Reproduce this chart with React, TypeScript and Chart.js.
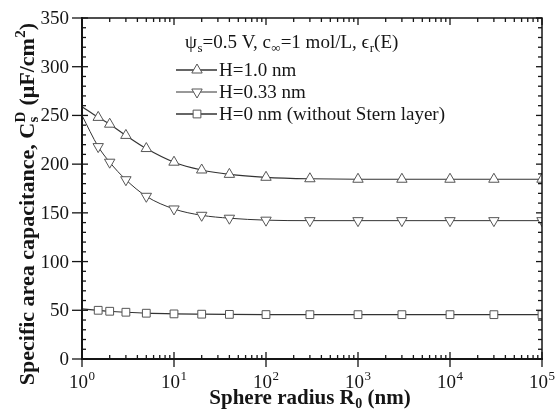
import React, { useEffect, useRef } from 'react';
import { Chart, registerables } from 'chart.js';

Chart.register(...registerables);

// ---- data ----
const radii = [1, 1.5, 2, 3, 5, 10, 20, 40, 100, 300, 1000, 3000, 10000, 30000, 100000];
const capH10 = [259, 248, 241, 229.5, 216, 202, 194, 189.5, 186.5, 185, 184.5, 184.5, 184.5, 184.5, 184.5];
const capH033 = [250, 218, 202, 184, 167, 154, 147.5, 144.5, 142.5, 142, 142, 142, 142, 142, 142];
const capH0 = [51.5, 50, 49, 48, 47, 46.3, 46, 45.8, 45.6, 45.5, 45.5, 45.5, 45.5, 45.5, 45.5];
const seriesLabels = ['H=1.0 nm', 'H=0.33 nm', 'H=0 nm (without Stern layer)'];
const yTicks = [0, 50, 100, 150, 200, 250, 300, 350];
const yMinorStep = 10;
const xTickExponents = [0, 1, 2, 3, 4, 5];
const xMinorMultipliers = [2, 3, 4, 5, 6, 7, 8, 9];

const FONT = '"Liberation Serif", "Times New Roman", serif';
const fnt = (size: number, bold = false) => `${bold ? 'bold ' : ''}${size}px ${FONT}`;

type Seg = { t: string; k?: 'sub' | 'sup' | 'ss'; t2?: string };

function measureRich(ctx: CanvasRenderingContext2D, segs: Seg[], size: number, bold: boolean) {
  const small = Math.round(size * 0.66);
  let w = 0;
  for (const s of segs) {
    if (!s.k) {
      ctx.font = fnt(size, bold);
      w += ctx.measureText(s.t).width;
    } else if (s.k === 'ss') {
      ctx.font = fnt(small, bold);
      w += Math.max(ctx.measureText(s.t).width, ctx.measureText(s.t2 || '').width) + 1;
    } else {
      ctx.font = fnt(small, bold);
      w += ctx.measureText(s.t).width + 0.5;
    }
  }
  return w;
}

function drawRich(
  ctx: CanvasRenderingContext2D,
  segs: Seg[],
  x: number,
  y: number,
  size: number,
  bold: boolean,
  align: 'left' | 'center'
) {
  const small = Math.round(size * 0.66);
  const total = measureRich(ctx, segs, size, bold);
  let cx = align === 'center' ? x - total / 2 : x;
  ctx.textAlign = 'left';
  ctx.textBaseline = 'alphabetic';
  for (const s of segs) {
    if (!s.k) {
      ctx.font = fnt(size, bold);
      ctx.fillText(s.t, cx, y);
      cx += ctx.measureText(s.t).width;
    } else if (s.k === 'sub') {
      ctx.font = fnt(small, bold);
      ctx.fillText(s.t, cx + 0.5, y + size * 0.2);
      cx += ctx.measureText(s.t).width + 0.5;
    } else if (s.k === 'sup') {
      ctx.font = fnt(small, bold);
      ctx.fillText(s.t, cx + 0.5, y - size * 0.4);
      cx += ctx.measureText(s.t).width + 0.5;
    } else {
      ctx.font = fnt(small, bold);
      ctx.fillText(s.t, cx + 0.5, y + size * 0.2);
      ctx.fillText(s.t2 || '', cx + 0.5, y - size * 0.4);
      cx += Math.max(ctx.measureText(s.t).width, ctx.measureText(s.t2 || '').width) + 1;
    }
  }
}

function drawMarker(ctx: CanvasRenderingContext2D, style: string, x: number, y: number, r: number) {
  ctx.beginPath();
  if (style === 'rect') {
    const s = Math.SQRT1_2 * r;
    ctx.rect(x - s, y - s, 2 * s, 2 * s);
  } else {
    const rot = style === 'down' ? Math.PI : 0;
    let a = rot;
    ctx.moveTo(x + Math.sin(a) * r, y - Math.cos(a) * r);
    a += (2 * Math.PI) / 3;
    ctx.lineTo(x + Math.sin(a) * r, y - Math.cos(a) * r);
    a += (2 * Math.PI) / 3;
    ctx.lineTo(x + Math.sin(a) * r, y - Math.cos(a) * r);
    ctx.closePath();
  }
  ctx.fillStyle = '#fff';
  ctx.fill();
  ctx.stroke();
}

const decor = {
  id: 'decor',
  afterDraw(chart: any) {
    const ctx: CanvasRenderingContext2D = chart.ctx;
    const xs = chart.scales.x;
    const ys = chart.scales.y;
    const { left, right, top, bottom } = chart.chartArea;
    const ink = '#151515';
    ctx.save();
    ctx.strokeStyle = ink;
    ctx.fillStyle = ink;

    const seg = (x1: number, y1: number, x2: number, y2: number) => {
      ctx.beginPath();
      ctx.moveTo(x1, y1);
      ctx.lineTo(x2, y2);
      ctx.stroke();
    };

    // frame
    ctx.lineWidth = 1.5;
    ctx.strokeRect(left, top, right - left, bottom - top);
    ctx.lineWidth = 2;
    seg(left, top - 1, left, bottom + 1);
    seg(left - 1, bottom, right + 1, bottom);

    // y ticks
    ctx.lineWidth = 1.3;
    for (let v = 0; v <= 350; v += yMinorStep) {
      const y = ys.getPixelForValue(v);
      const major = yTicks.includes(v);
      if (major) {
        seg(left - 10, y, left + 6, y);
        seg(right - 6, y, right, y);
      } else {
        seg(left, y, left + 4, y);
        seg(right - 4, y, right, y);
      }
    }
    // x ticks
    for (const e of xTickExponents) {
      const x = xs.getPixelForValue(Math.pow(10, e));
      seg(x, bottom + 8, x, bottom - 7);
      seg(x, top, x, top + 7);
      if (e < 5) {
        for (const m of xMinorMultipliers) {
          const xm = xs.getPixelForValue(m * Math.pow(10, e));
          seg(xm, bottom, xm, bottom - 4);
          seg(xm, top, xm, top + 4);
        }
      }
    }

    // y tick labels
    ctx.font = fnt(19);
    ctx.textAlign = 'right';
    ctx.textBaseline = 'middle';
    for (const v of yTicks) {
      ctx.fillText(String(v), left - 13, ys.getPixelForValue(v) + 1);
    }
    // x tick labels
    for (const e of xTickExponents) {
      const x = xs.getPixelForValue(Math.pow(10, e));
      drawRich(ctx, [{ t: '10' }, { t: String(e), k: 'sup' }], x, bottom + 29, 19, false, 'center');
    }

    // axis titles
    drawRich(
      ctx,
      [{ t: 'Sphere radius R' }, { t: '0', k: 'sub' }, { t: ' (nm)' }],
      310,
      404,
      21,
      true,
      'center'
    );
    ctx.save();
    ctx.translate(27, 204);
    ctx.rotate(-Math.PI / 2);
    drawRich(
      ctx,
      [
        { t: 'Specific area capacitance, C' },
        { t: 's', k: 'ss', t2: 'D' },
        { t: ' (\u03bcF/cm' },
        { t: '2', k: 'sup' },
        { t: ')' },
      ],
      0,
      7,
      22,
      true,
      'center'
    );
    ctx.restore();

    // legend
    ctx.fillStyle = ink;
    drawRich(
      ctx,
      [
        { t: '\u03c8' },
        { t: 's', k: 'sub' },
        { t: '=0.5 V, c' },
        { t: '\u221e', k: 'sub' },
        { t: '=1 mol/L, \u03f5' },
        { t: 'r', k: 'sub' },
        { t: '(E)' },
      ],
      185,
      48,
      19,
      false,
      'left'
    );
    const styles = ['up', 'down', 'rect'];
    const rowY = [70, 92, 114];
    const lw = [1.6, 1, 1.6];
    const mr = [6, 6, 5.5];
    for (let i = 0; i < seriesLabels.length; i++) {
      const y = rowY[i];
      ctx.strokeStyle = '#333';
      ctx.lineWidth = lw[i];
      seg(176, y, 217, y);
      ctx.strokeStyle = '#555';
      ctx.lineWidth = 1;
      drawMarker(ctx, styles[i], 197, y, mr[i]);
      ctx.fillStyle = ink;
      ctx.font = fnt(19);
      ctx.textAlign = 'left';
      ctx.textBaseline = 'middle';
      ctx.fillText(seriesLabels[i], 219, y + 1);
    }
    ctx.restore();
  },
};

function makeDataset(label: string, values: number[], style: string, rotation: number, radius: number, width: number) {
  return {
    label,
    data: radii.map((r, i) => ({ x: r, y: values[i] })),
    borderColor: '#333',
    borderWidth: width,
    backgroundColor: '#fff',
    pointStyle: style,
    pointRotation: rotation,
    pointRadius: (c: any) => (c.dataIndex === 0 ? 0 : radius),
    pointBorderColor: '#555',
    pointBorderWidth: 1,
    pointBackgroundColor: '#fff',
    cubicInterpolationMode: 'monotone',
    clip: 0,
  };
}

export default function App() {
  const ref = useRef<HTMLCanvasElement | null>(null);
  useEffect(() => {
    if (!ref.current) return;
    const chart = new Chart(ref.current, {
      type: 'line',
      data: {
        datasets: [
          makeDataset(seriesLabels[0], capH10, 'triangle', 0, 6, 1.2),
          makeDataset(seriesLabels[1], capH033, 'triangle', 180, 6, 1),
          makeDataset(seriesLabels[2], capH0, 'rect', 0, 5.5, 1.2),
        ] as any,
      },
      options: {
        responsive: false,
        animation: false,
        layout: { padding: { left: 82, right: 14, top: 18, bottom: 52 } },
        plugins: { legend: { display: false }, tooltip: { enabled: false } },
        scales: {
          x: { type: 'logarithmic', min: 1, max: 100000, display: false },
          y: { type: 'linear', min: 0, max: 350, display: false },
        },
      } as any,
      plugins: [decor],
    });
    return () => chart.destroy();
  }, []);
  return (
    <div style={{ position: 'absolute', left: 0, top: 0, width: 556, height: 411, background: '#fff' }}>
      <canvas ref={ref} width={556} height={411} style={{ display: 'block' }} />
    </div>
  );
}
